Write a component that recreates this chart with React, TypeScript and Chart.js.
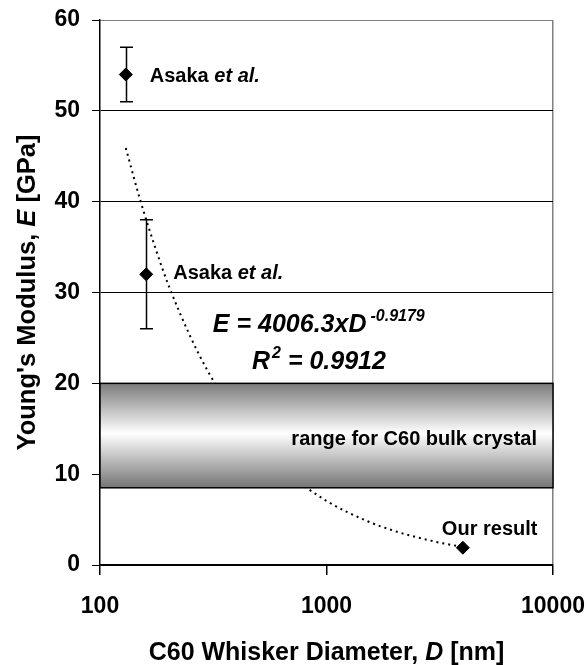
import React, { useEffect, useRef } from "react";
import { Chart, registerables } from "chart.js";

Chart.register(...registerables);

// ---- data ----
const diameters = [130, 160, 4000];
const moduli = [54, 32, 1.9];
const errLow: (number | null)[] = [51, 26, null];
const errHigh: (number | null)[] = [57, 38, null];
const pointLabels = ["Asaka", "Asaka", "Our result"];

// dotted trend line
const fitD = [130, 150, 175, 200, 250, 300, 400, 500, 700, 1000, 1500, 2000, 3000, 4000];
const fitE = [45.9, 40.3, 35.0, 30.9, 25.2, 21.3, 16.4, 13.3, 9.8, 7.06, 4.87, 3.74, 2.58, 1.98];

const xTicks = [100, 1000, 10000];
const yTicks = [0, 10, 20, 30, 40, 50, 60];
const bandRange = [8.5, 20];

const equationText = "E = 4006.3xD";
const equationExp = "-0.9179";
const r2Text = " = 0.9912";
const bandText = "range for C60 bulk crystal";
const xTitle = ["C60 Whisker Diameter, ", "D", " [nm]"];
const yTitle = ["Young's Modulus, ", "E", " [GPa]"];

const FAM = '"Liberation Sans", Arial, Helvetica, sans-serif';
const B = (s: number) => `bold ${s}px ${FAM}`;
const BI = (s: number) => `italic bold ${s}px ${FAM}`;

type Run = { text: string; font: string; dy?: number; dx?: number };

function drawRuns(ctx: CanvasRenderingContext2D, runs: Run[], x: number, y: number, align: "left" | "center" | "right") {
  const widths = runs.map((r) => {
    ctx.font = r.font;
    return ctx.measureText(r.text).width + (r.dx || 0);
  });
  const total = widths.reduce((a, b) => a + b, 0);
  let cx = align === "center" ? x - total / 2 : align === "right" ? x - total : x;
  ctx.textAlign = "left";
  ctx.textBaseline = "alphabetic";
  ctx.fillStyle = "#000";
  runs.forEach((r, i) => {
    ctx.font = r.font;
    ctx.fillText(r.text, cx + (r.dx || 0), y + (r.dy || 0));
    cx += widths[i];
  });
}

const decorPlugin = {
  id: "decor",
  beforeDatasetsDraw(chart: any) {
    const ctx: CanvasRenderingContext2D = chart.ctx;
    const xs = chart.scales.x;
    const ys = chart.scales.y;
    ctx.save();
    ctx.strokeStyle = "#000";
    ctx.lineWidth = 1.5;
    diameters.forEach((d, i) => {
      const lo = errLow[i];
      const hi = errHigh[i];
      if (lo == null || hi == null) return;
      const px = Math.round(xs.getPixelForValue(d)) + 0.5;
      const py1 = ys.getPixelForValue(lo);
      const py2 = ys.getPixelForValue(hi);
      ctx.beginPath();
      ctx.moveTo(px, py1);
      ctx.lineTo(px, py2);
      ctx.moveTo(px - 6.5, py1);
      ctx.lineTo(px + 6.5, py1);
      ctx.moveTo(px - 6.5, py2);
      ctx.lineTo(px + 6.5, py2);
      ctx.stroke();
    });
    ctx.restore();
  },
  afterDatasetsDraw(chart: any) {
    const ctx: CanvasRenderingContext2D = chart.ctx;
    const xs = chart.scales.x;
    const ys = chart.scales.y;
    const area = chart.chartArea;
    ctx.save();
    // band
    const yTop = ys.getPixelForValue(bandRange[1]);
    const yBot = ys.getPixelForValue(bandRange[0]);
    const g = ctx.createLinearGradient(0, yTop, 0, yBot);
    g.addColorStop(0, "#7b7b7b");
    g.addColorStop(0.48, "#ffffff");
    g.addColorStop(1, "#747474");
    ctx.fillStyle = g;
    ctx.fillRect(area.left, yTop, area.right - area.left, yBot - yTop);
    ctx.strokeStyle = "#000";
    ctx.lineWidth = 1.5;
    ctx.strokeRect(area.left, yTop, area.right - area.left, yBot - yTop);

    drawRuns(ctx, [{ text: bandText, font: B(20) }], xs.getPixelForValue(8500), ys.getPixelForValue(13.2), "right");

    // point labels
    const offs = [
      [24, 7.5],
      [27, 5],
      [-21, -13],
    ];
    diameters.forEach((d, i) => {
      const px = xs.getPixelForValue(d) + offs[i][0];
      const py = ys.getPixelForValue(moduli[i]) + offs[i][1];
      const runs: Run[] =
        pointLabels[i] === "Asaka"
          ? [
              { text: "Asaka ", font: B(20) },
              { text: "et al.", font: BI(20) },
            ]
          : [{ text: pointLabels[i], font: B(20) }];
      drawRuns(ctx, runs, px, py, "left");
    });

    // equation
    drawRuns(
      ctx,
      [
        { text: equationText, font: BI(25) },
        { text: equationExp, font: BI(16), dy: -11, dx: 4 },
      ],
      xs.getPixelForValue(315),
      ys.getPixelForValue(25.65),
      "left"
    );
    drawRuns(
      ctx,
      [
        { text: "R", font: BI(25) },
        { text: "2", font: BI(16), dy: -11, dx: 2 },
        { text: r2Text, font: BI(25) },
      ],
      xs.getPixelForValue(469),
      ys.getPixelForValue(21.58),
      "left"
    );

    // axis titles
    const cxTitle = (area.left + area.right) / 2;
    drawRuns(
      ctx,
      [
        { text: xTitle[0], font: B(25) },
        { text: xTitle[1], font: BI(25) },
        { text: xTitle[2], font: B(25) },
      ],
      cxTitle,
      660,
      "center"
    );
    ctx.save();
    ctx.translate(35, (area.top + area.bottom) / 2);
    ctx.rotate(-Math.PI / 2);
    drawRuns(
      ctx,
      [
        { text: yTitle[0], font: B(25.5) },
        { text: yTitle[1], font: BI(25.5) },
        { text: yTitle[2], font: B(25.5) },
      ],
      0,
      0,
      "center"
    );
    ctx.restore();
    ctx.restore();
  },
};

export default function App() {
  const ref = useRef<HTMLCanvasElement | null>(null);
  useEffect(() => {
    if (!ref.current) return;
    const chart = new Chart(ref.current, {
      type: "scatter",
      data: {
        datasets: [
          {
            label: "data",
            data: diameters.map((d, i) => ({ x: d, y: moduli[i] })),
            pointStyle: "rectRot",
            pointRadius: 6.5,
            backgroundColor: "#000",
            borderColor: "#000",
            borderWidth: 1,
            showLine: false,
          },
          {
            label: "fit",
            data: fitD.map((d, i) => ({ x: d, y: fitE[i] })),
            showLine: true,
            borderColor: "#000",
            borderWidth: 2,
            borderDash: [2, 4],
            pointRadius: 0,
            cubicInterpolationMode: "monotone",
            fill: false,
          },
        ],
      } as any,
      options: {
        responsive: false,
        animation: false,
        devicePixelRatio: 1,
        layout: { padding: { left: 0, top: 20, right: 34, bottom: 0 } },
        plugins: { legend: { display: false }, tooltip: { enabled: false } },
        scales: {
          x: {
            type: "logarithmic",
            min: 100,
            max: 10000,
            afterBuildTicks: (axis: any) => {
              axis.ticks = xTicks.map((v) => ({ value: v }));
            },
            afterFit: (axis: any) => {
              axis.height = 100;
              axis.paddingLeft = 0;
              axis.paddingRight = 0;
            },
            ticks: {
              autoSkip: false,
              maxRotation: 0,
              padding: 18,
              color: "#000",
              font: { size: 23, weight: "bold", family: FAM },
              callback: (v: any) => String(v),
            },
            grid: {
              color: (c: any) => (c.tick && c.tick.value === 10000 ? "#808080" : "rgba(0,0,0,0)"),
              tickColor: "#000",
              tickLength: 10,
              lineWidth: 1.5,
            },
            border: { color: "#000", width: 1.5 },
          },
          y: {
            type: "linear",
            min: 0,
            max: 60,
            afterBuildTicks: (axis: any) => {
              axis.ticks = yTicks.map((v) => ({ value: v }));
            },
            afterFit: (axis: any) => {
              axis.width = 100;
              axis.paddingTop = 0;
              axis.paddingBottom = 0;
            },
            ticks: {
              padding: 12,
              color: "#000",
              font: { size: 23, weight: "bold", family: FAM },
            },
            grid: {
              color: (c: any) => (c.tick && c.tick.value === 60 ? "#808080" : "#000"),
              tickColor: "#000",
              tickLength: 8,
              lineWidth: 1,
            },
            border: { color: "#000", width: 1.5 },
          },
        },
      } as any,
      plugins: [decorPlugin],
    });
    return () => chart.destroy();
  }, []);
  return (
    <div style={{ position: "fixed", left: 0, top: 0, width: 587, height: 665, background: "#fff" }}>
      <canvas ref={ref} width={587} height={665} style={{ width: 587, height: 665, display: "block" }} />
    </div>
  );
}
